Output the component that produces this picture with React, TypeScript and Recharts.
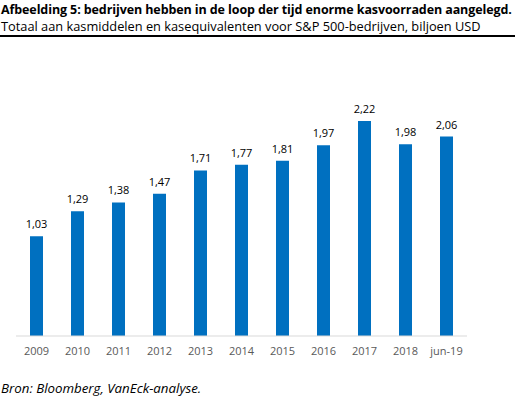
import { BarChart, Bar, XAxis, YAxis, LabelList } from "recharts";

const years = ["2009", "2010", "2011", "2012", "2013", "2014", "2015", "2016", "2017", "2018", "jun-19"];
const cash = [1.03, 1.29, 1.38, 1.47, 1.71, 1.77, 1.81, 1.97, 2.22, 1.98, 2.06];

const data = years.map((year, i) => ({ year, cash: cash[i] }));

const fmt = (v: any) => Number(v).toFixed(2).replace(".", ",");

const App = () => {
  return (
    <div
      style={{
        position: "absolute",
        left: 0,
        top: 0,
        width: 515,
        height: 397,
        background: "#fff",
        fontFamily: "'Open Sans', sans-serif",
        color: "#000",
      }}
    >
      {/* Title block */}
      <div
        style={{
          position: "absolute",
          left: 1,
          top: 3,
          fontSize: 12.5,
          fontWeight: 700,
          letterSpacing: -0.1,
          whiteSpace: "nowrap",
          lineHeight: "14px",
        }}
      >
        Afbeelding 5: bedrijven hebben in de loop der tijd enorme kasvoorraden aangelegd.
      </div>
      <div
        style={{
          position: "absolute",
          left: 1,
          top: 19,
          fontSize: 12.8,
          whiteSpace: "nowrap",
          lineHeight: "15px",
        }}
      >
        Totaal aan kasmiddelen en kasequivalenten voor S&amp;P 500-bedrijven, biljoen USD
      </div>
      <div style={{ position: "absolute", left: 0, top: 35, width: 515, height: 1.5, background: "#000" }} />

      {/* Chart */}
      <div style={{ position: "absolute", left: 0, top: 0 }}>
        <BarChart
          width={515}
          height={360}
          data={data}
          margin={{ top: 94, right: 48, left: 16, bottom: 4 }}
        >
          <XAxis
            dataKey="year"
            axisLine={{ stroke: "#d9d9d9" }}
            tickLine={false}
            tick={{ fill: "#595959", fontSize: 11 }}
            tickMargin={5}
            height={20}
            interval={0}
          />
          <YAxis hide domain={[0, 2.5]} />
          <Bar dataKey="cash" fill="#0070C0" barSize={13} isAnimationActive={false}>
            <LabelList
              dataKey="cash"
              position="top"
              offset={8}
              formatter={fmt}
              style={{ fill: "#000", fontSize: 11 }}
            />
          </Bar>
        </BarChart>
      </div>

      {/* Source */}
      <div
        style={{
          position: "absolute",
          left: 1,
          top: 381,
          fontSize: 13.3,
          fontStyle: "italic",
          whiteSpace: "nowrap",
          lineHeight: "15px",
        }}
      >
        Bron: Bloomberg, VanEck-analyse.
      </div>
    </div>
  );
};

export default App;
